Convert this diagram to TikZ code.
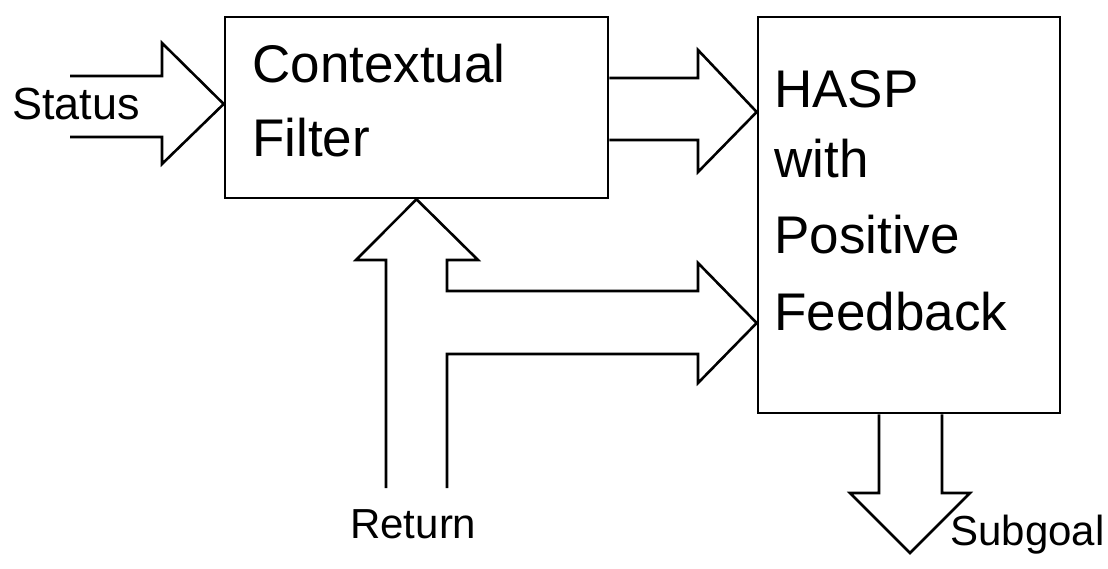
\documentclass[tikz,border=0pt]{standalone}
\usepackage{fontspec}
\setmainfont{Liberation Sans}
\begin{document}
\begin{tikzpicture}[x=1pt,y=-1pt,line width=2.6pt,line join=miter,
  box/.style={draw,inner sep=0pt},
  blockarrow/.style={draw,line join=miter},
  boxtext/.style={font=\fontsize{53}{60}\selectfont,anchor=base west,inner sep=0pt},
  tag/.style={font=\fontsize{42}{48}\selectfont,anchor=base west,inner sep=0pt}]
\useasboundingbox (0,0) rectangle (1108,569);

% blocks
\node[box,minimum width=383pt,minimum height=181pt] (filter) at (416.5,107.5) {};
\node[box,minimum width=302pt,minimum height=396pt] (hasp) at (909,215) {};

% block texts
\node[boxtext] (ctx) at (251,83) {Contextual};
\node[boxtext] (flt) at (251,157) {Filter};
\node[boxtext] (h1) at (773,108) {HASP};
\node[boxtext] (h2) at (773,178) {with};
\node[boxtext] (h3) at (773,254) {Positive};
\node[boxtext] (h4) at (773,330) {Feedback};

% signal labels
\node[tag,font=\fontsize{45}{50}\selectfont] (status) at (11,120) {Status};
\node[tag] (ret) at (349,538) {Return};
\node[tag] (sub) at (949,545) {Subgoal};

% helper levels for the arrow tips and free ends
\coordinate (stip) at (0,104);
\coordinate (htip) at (0,112);
\coordinate (rtip) at (0,323);
\coordinate (sin1) at (70,76);
\coordinate (sin2) at (70,137);
\coordinate (rin1) at (386,488);
\coordinate (rin2) at (447,488);
\coordinate (gx1) at (879,0);
\coordinate (gx2) at (942,0);
\coordinate (gtip) at (910,553);

% Status -> Contextual Filter
\draw[blockarrow] (sin1) -- (162,76) -- (162,43) -- (filter.west |- stip)
  -- (162,164) -- (162,137) -- (sin2);

% Contextual Filter -> HASP
\draw[blockarrow] (filter.east |- 0,78) -- (698,78) -- (698,50) -- (hasp.west |- htip)
  -- (698,172) -- (698,140) -- (filter.east |- 0,140);

% Return -> Contextual Filter and HASP
\draw[blockarrow] (rin1) -- (386,260) -- (356,260) -- (filter.south)
  -- (478,260) -- (447,260) -- (447,291) -- (698,291) -- (698,263)
  -- (hasp.west |- rtip) -- (698,383) -- (698,354) -- (447,354) -- (rin2);

% HASP -> Subgoal
\draw[blockarrow] (hasp.south -| gx1) -- (879,493) -- (850,493) -- (gtip)
  -- (970,493) -- (942,493) -- (hasp.south -| gx2);
\end{tikzpicture}
\end{document}
